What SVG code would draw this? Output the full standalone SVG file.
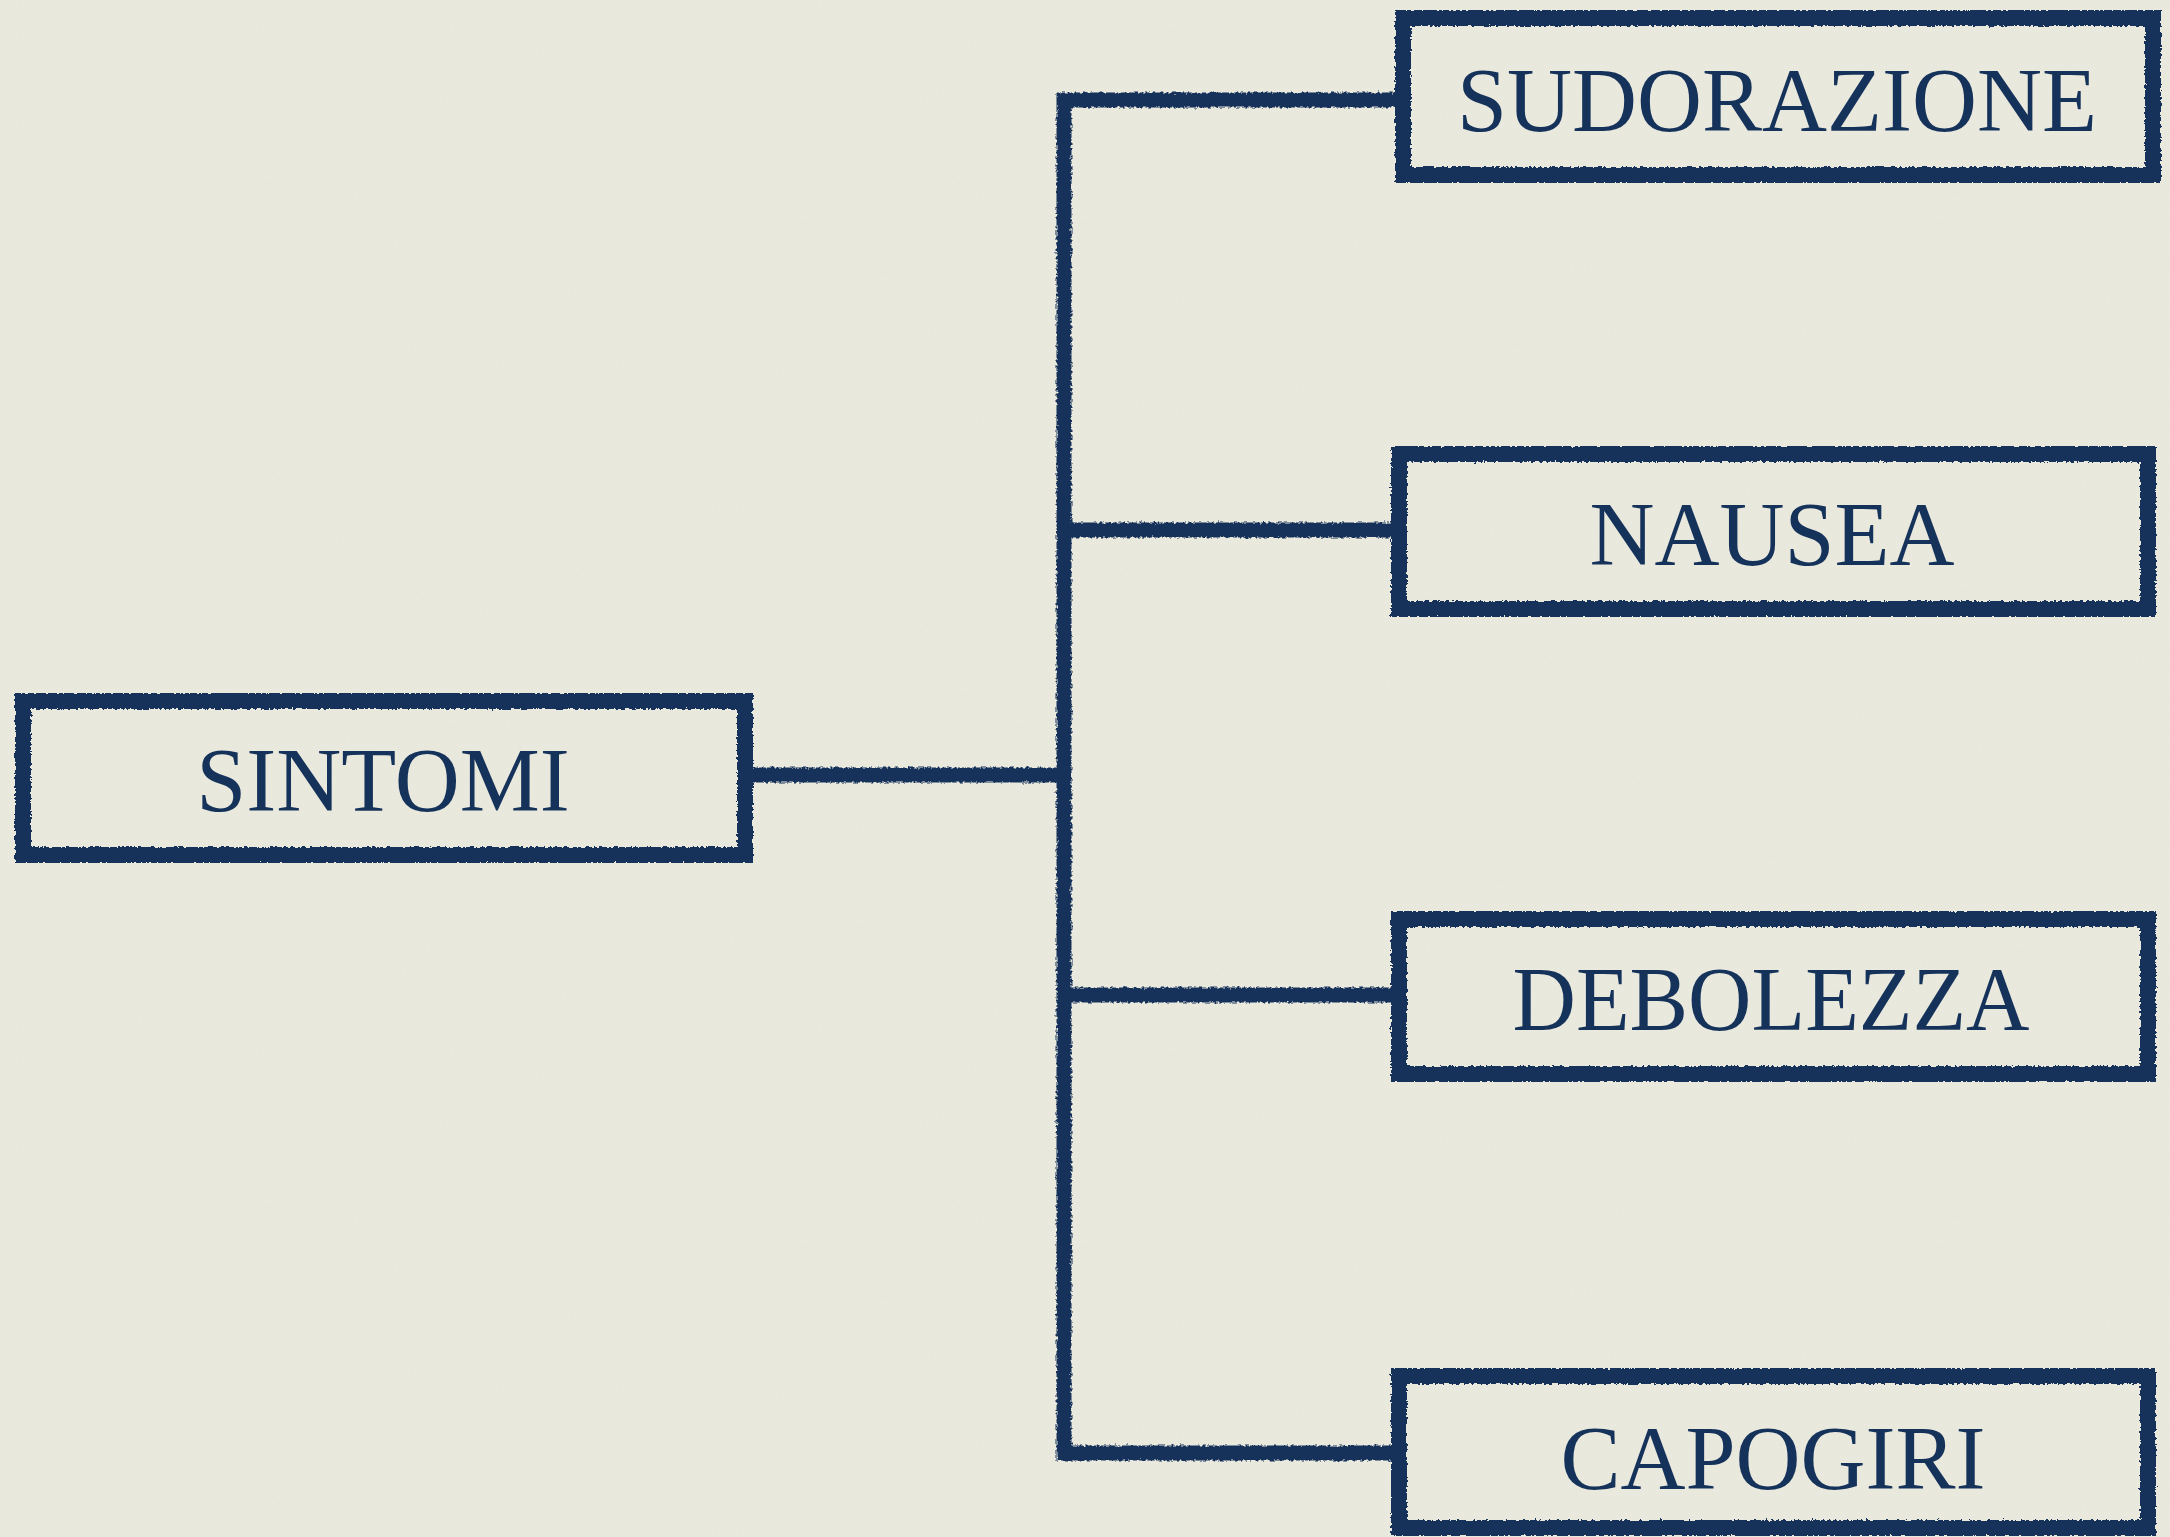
<svg xmlns="http://www.w3.org/2000/svg" width="2170" height="1537" viewBox="0 0 2170 1537">
  <defs>
    <filter id="rough" x="-5%" y="-5%" width="110%" height="110%">
      <feTurbulence type="fractalNoise" baseFrequency="0.35" numOctaves="2" seed="3" result="n"/>
      <feDisplacementMap in="SourceGraphic" in2="n" scale="5" xChannelSelector="R" yChannelSelector="G"/>
    </filter>
    <filter id="paper" x="0" y="0" width="100%" height="100%">
      <feTurbulence type="fractalNoise" baseFrequency="0.9 0.25" numOctaves="2" seed="7" result="t"/>
      <feColorMatrix in="t" type="matrix" values="0 0 0 0 0.6  0 0 0 0 0.59  0 0 0 0 0.53  0 0 0 0.1 0"/>
    </filter>
  </defs>
  <style>
    .box { fill: none; stroke: #15325a; stroke-width: 16; stroke-linejoin: miter; }
    .conn { fill: none; stroke: #15325a; stroke-width: 15; stroke-linejoin: miter; }
    .lbl { font-family: "Liberation Serif", "Times New Roman", serif; font-size: 90px; fill: #15325a; text-anchor: middle; }
  </style>
  <rect x="0" y="0" width="2170" height="1537" fill="#ebeadf"/>
  <rect x="0" y="0" width="2170" height="1537" filter="url(#paper)"/>

  <g id="connectors" filter="url(#rough)">
    <path class="conn" d="M1403 100 H1064 V1453 H1399"/>
    <path class="conn" d="M1064 530 H1399"/>
    <path class="conn" d="M745 775 H1064"/>
    <path class="conn" d="M1064 995 H1399"/>
  </g>

  <g id="sintomi">
    <rect class="box" x="23" y="701" width="722" height="154" filter="url(#rough)"/>
    <text class="lbl" x="383" y="811">SINTOMI</text>
  </g>
  <g id="sudorazione">
    <rect class="box" x="1403" y="18" width="750" height="157" filter="url(#rough)"/>
    <text class="lbl" x="1777" y="131">SUDORAZIONE</text>
  </g>
  <g id="nausea">
    <rect class="box" x="1399" y="454" width="749" height="155" filter="url(#rough)"/>
    <text class="lbl" x="1772" y="565">NAUSEA</text>
  </g>
  <g id="debolezza">
    <rect class="box" x="1399" y="919" width="749" height="155" filter="url(#rough)"/>
    <text class="lbl" x="1771" y="1030" textLength="517" lengthAdjust="spacingAndGlyphs">DEBOLEZZA</text>
  </g>
  <g id="capogiri">
    <rect class="box" x="1399" y="1376" width="749" height="152" filter="url(#rough)"/>
    <text class="lbl" x="1773" y="1489">CAPOGIRI</text>
  </g>
</svg>
